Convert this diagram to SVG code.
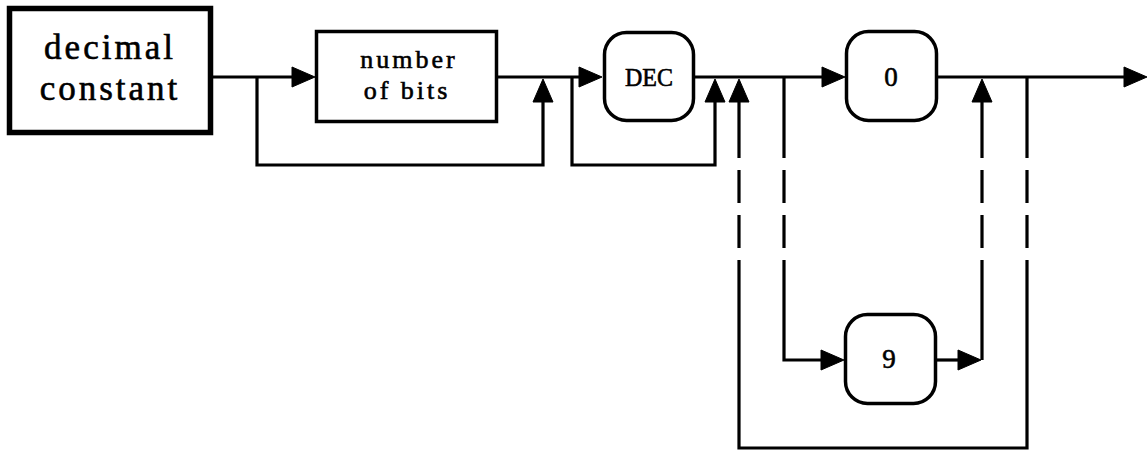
<svg xmlns="http://www.w3.org/2000/svg" width="1148" height="450" viewBox="0 0 1148 450">
<style>
.box{fill:#fff;stroke:#000;stroke-width:3.5}
.thick{fill:#fff;stroke:#000;stroke-width:5.5}
.ln{fill:none;stroke:#000;stroke-width:3.2}
.ah{fill:#000;stroke:#000;stroke-width:1;stroke-linejoin:round}
.t{font-family:"Liberation Serif","Times New Roman",serif;fill:#000;stroke:#000;stroke-width:0.6;text-anchor:middle}
</style>
<defs>
<path id="ar" d="M0 0 L-23 -10 L-23 10 Z"/>
<path id="au" d="M0 0 L-10 23 L10 23 Z"/>
</defs>
<rect width="1148" height="450" fill="#fff"/>
<g id="connectors">
<path class="ln" d="M212 77 H300"/>
<path class="ln" d="M257 77 V165 H543 V96"/>
<path class="ln" d="M498 77 H588"/>
<path class="ln" d="M572 77 V165 H715 V96"/>
<path class="ln" d="M695 77 H830"/>
<path class="ln" d="M739 96 V158 M739 170 V203 M739 215 V248 M739 260 V448 H1027 V260 M1027 248 V215 M1027 203 V170 M1027 158 V77"/>
<path class="ln" d="M784 77 V158 M784 170 V203 M784 215 V248 M784 260 V360 H830"/>
<path class="ln" d="M937 360 H965"/>
<path class="ln" d="M982 360 V260 M982 248 V215 M982 203 V170 M982 158 V96"/>
<path class="ln" d="M938 77 H1130"/>
<use href="#ar" class="ah" x="315" y="77"/>
<use href="#au" class="ah" x="543" y="79"/>
<use href="#ar" class="ah" x="602" y="77"/>
<use href="#au" class="ah" x="715" y="79"/>
<use href="#au" class="ah" x="739" y="79"/>
<use href="#ar" class="ah" x="845" y="77"/>
<use href="#au" class="ah" x="982" y="79"/>
<use href="#ar" class="ah" x="1147" y="77"/>
<use href="#ar" class="ah" x="844" y="360"/>
<use href="#ar" class="ah" x="981" y="360"/>
</g>
<g id="decimal-constant">
<rect class="thick" x="9.5" y="8.5" width="201" height="124"/>
<text class="t" x="110" y="59" font-size="35" letter-spacing="3">decimal</text>
<text class="t" x="110" y="100" font-size="35" letter-spacing="3">constant</text>
</g>
<g id="number-of-bits">
<rect class="box" x="316.5" y="31.5" width="180" height="90"/>
<text class="t" x="409" y="68" font-size="26" letter-spacing="3">number</text>
<text class="t" x="407" y="99" font-size="26" letter-spacing="3">of bits</text>
</g>
<g id="dec">
<rect class="box" x="604.5" y="32.5" width="89" height="88" rx="22"/>
<text class="t" x="649" y="86" font-size="26" textLength="48" lengthAdjust="spacingAndGlyphs">DEC</text>
</g>
<g id="digit-0">
<rect class="box" x="846.5" y="31.5" width="90" height="89" rx="22"/>
<text class="t" x="891" y="86" font-size="27">0</text>
</g>
<g id="digit-9">
<rect class="box" x="845.5" y="314.5" width="90" height="89" rx="22"/>
<text class="t" x="889" y="368" font-size="27">9</text>
</g>
</svg>
